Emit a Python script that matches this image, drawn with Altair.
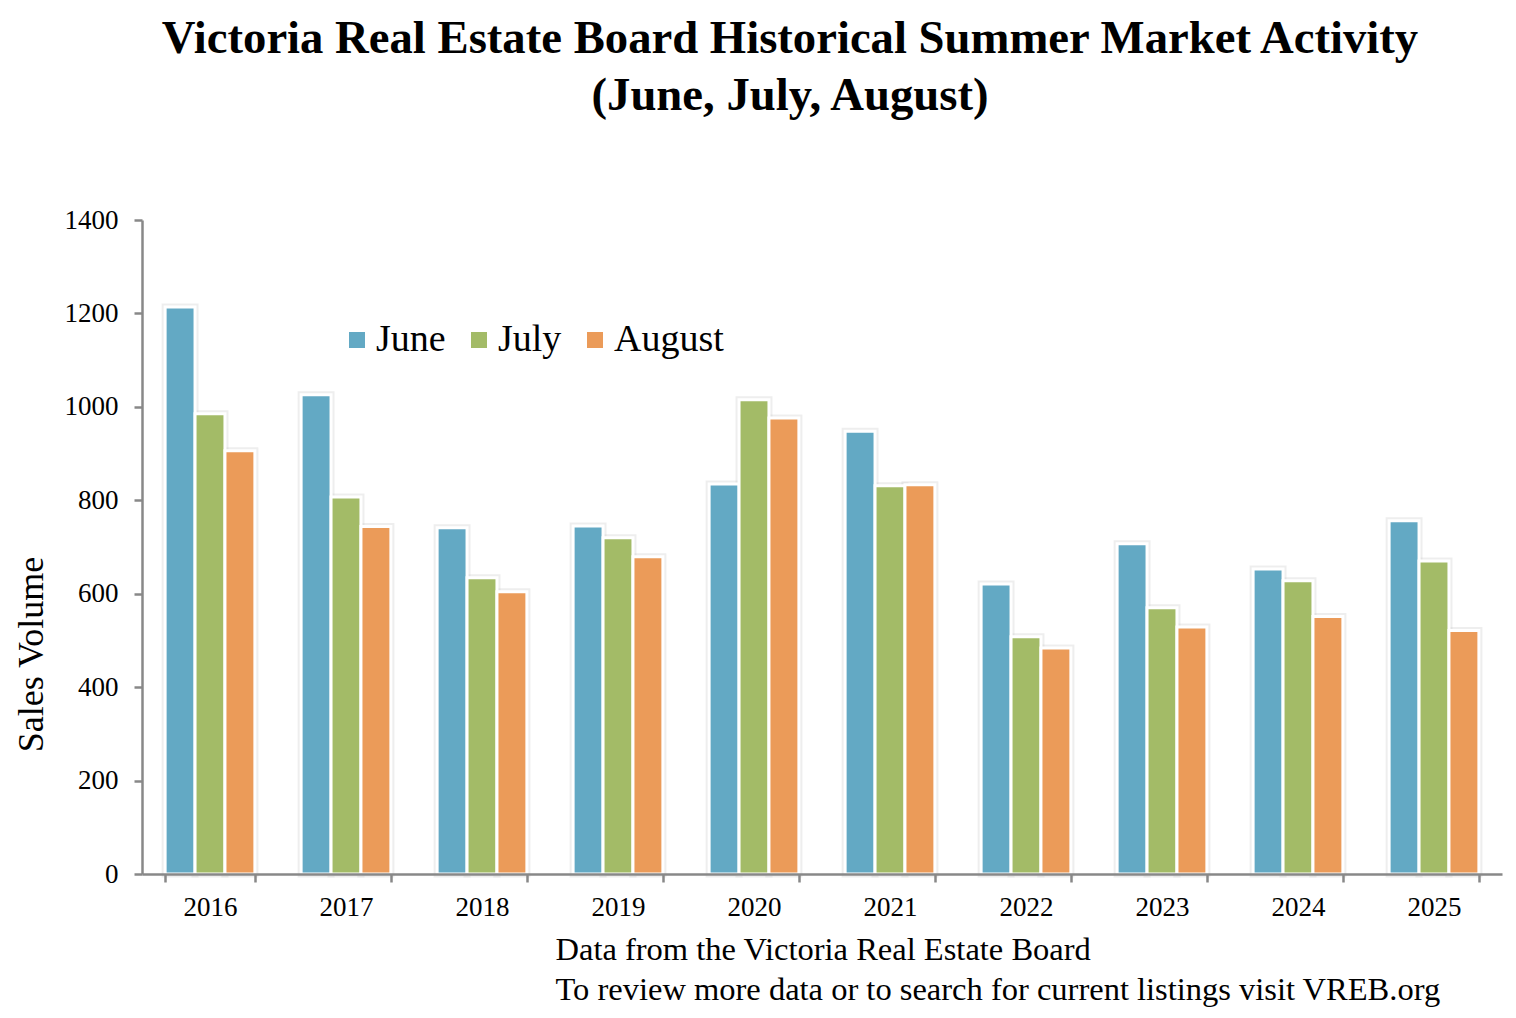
import altair as alt
import pandas as pd

years = ["2016", "2017", "2018", "2019", "2020", "2021", "2022", "2023", "2024", "2025"]
months = ["June", "July", "August"]
june = [1214, 1026, 741, 745, 835, 948, 621, 707, 653, 756]
july = [985, 807, 634, 720, 1015, 831, 508, 570, 628, 670]
august = [906, 744, 604, 679, 976, 833, 484, 529, 551, 521]
colors = ["#63a9c4", "#a3bb67", "#eb9b59"]
y_ticks = [0, 200, 400, 600, 800, 1000, 1200, 1400]

rows = []
for i, yr in enumerate(years):
    for m, vals in zip(months, [june, july, august]):
        rows.append({"Year": yr, "Month": m, "Sales": vals[i]})
df = pd.DataFrame(rows)

FONT = "Liberation Serif"

x_enc = alt.X(
    "Year:N",
    sort=years,
    scale=alt.Scale(paddingInner=0.34, paddingOuter=0.17),
    axis=alt.Axis(
        title=["Data from the Victoria Real Estate Board",
               "To review more data or to search for current listings visit VREB.org"],
        titleFont=FONT, titleFontSize=32.5, titleFontWeight="normal", titleColor="black",
        titleAlign="left", titleBaseline="top", titleX=413, titleY=59, titleLineHeight=40,
        labelAngle=0, labelFont=FONT, labelFontSize=27, labelColor="black", labelPadding=12,
        tickBand="extent", tickSize=8, tickColor="#888888", tickWidth=2.5,
        domainColor="#888888", domainWidth=2.5, zindex=1,
    ),
)
xo_enc = alt.XOffset("Month:N", sort=months, scale=alt.Scale(paddingInner=0, paddingOuter=0))
y_enc = alt.Y(
    "Sales:Q",
    scale=alt.Scale(domain=[0, 1400], nice=False),
    axis=alt.Axis(
        values=y_ticks, grid=False, title="Sales Volume", format="d",
        titleFont=FONT, titleFontSize=36, titleFontWeight="normal", titleColor="black",
        titleAngle=270, titleAlign="center", titleBaseline="middle", titleX=-111, titleY=434,
        labelFont=FONT, labelFontSize=27, labelColor="black", labelPadding=16,
        tickSize=8, tickColor="#888888", tickWidth=2.5,
        domainColor="#888888", domainWidth=2.5, zindex=1,
    ),
)
color_enc = alt.Color(
    "Month:N", sort=months,
    scale=alt.Scale(domain=months, range=colors),
    legend=alt.Legend(
        title=None, orient="none", direction="horizontal", legendX=196, legendY=101,
        symbolType="square", symbolSize=256, symbolStrokeWidth=0,
        labelFont=FONT, labelFontSize=38, labelColor="black", labelOffset=0,
        columnPadding=14, padding=0,
    ),
)

glow = alt.Chart(df).mark_bar(stroke="#c8c8c8", strokeWidth=7, strokeOpacity=0.3).encode(
    x=x_enc, xOffset=xo_enc, y=y_enc, color=color_enc
)
bars = alt.Chart(df).mark_bar(stroke="white", strokeWidth=3).encode(
    x=x_enc, xOffset=xo_enc, y=y_enc, color=color_enc
)

chart = alt.layer(glow, bars).properties(
    width=1360,
    height=654,
    background="white",
    padding={"left": 134, "top": 212, "right": 4, "bottom": 134},
    autosize=alt.AutoSizeParams(type="none"),
    title=alt.TitleParams(
        text=["Victoria Real Estate Board Historical Summer Market Activity", "(June, July, August)"],
        font=FONT, fontSize=46.7, fontWeight="bold", color="black",
        lineHeight=57, anchor="middle", dx=-32, baseline="bottom", offset=39,
    ),
).configure_view(strokeWidth=0, stroke="transparent")

chart.save("out.html", embed_options={"renderer": "svg", "actions": False})
